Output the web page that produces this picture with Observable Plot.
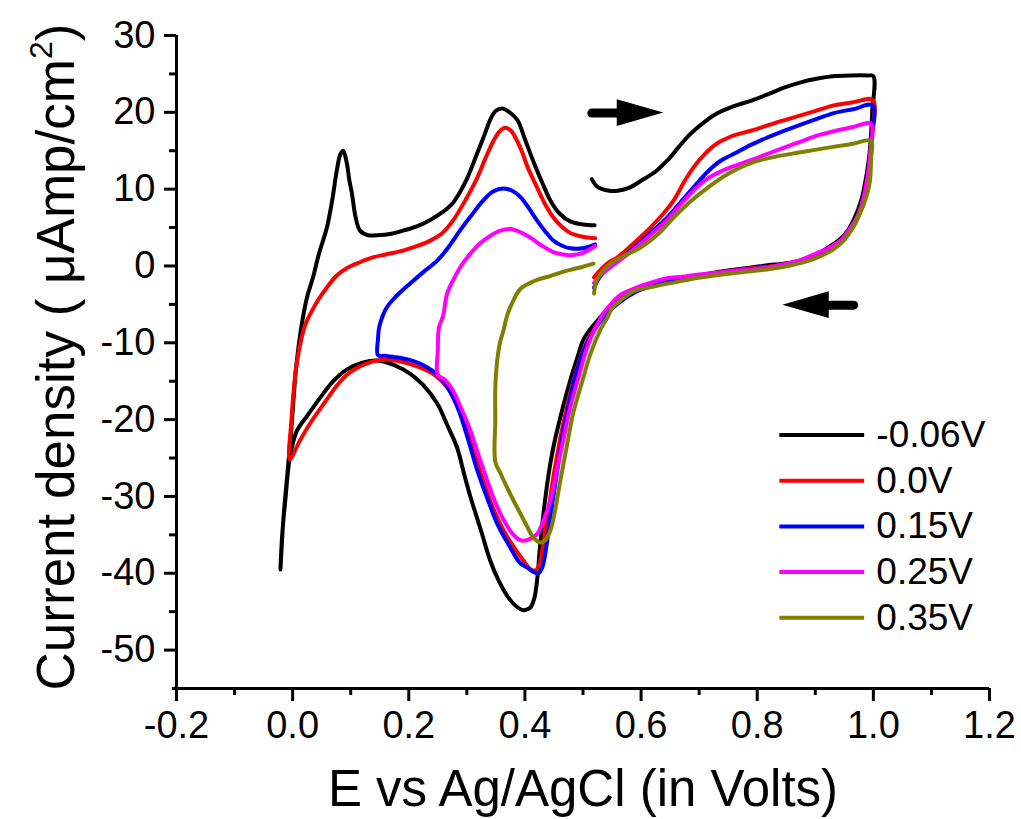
<!DOCTYPE html>
<html><head><meta charset="utf-8">
<script src="https://cdn.jsdelivr.net/npm/d3@7"></script>
<script src="https://cdn.jsdelivr.net/npm/@observablehq/plot@0.6"></script>
<style>body{margin:0;background:#fff}</style>
</head><body><div id="chart"></div>
<script>
// ---- data (E in V vs Ag/AgCl, j in µA/cm²), each curve in scan order ----
const seriesLabels = ["-0.06V", "0.0V", "0.15V", "0.25V", "0.35V"];
const seriesColors = ["#000000", "#ff0000", "#0000ff", "#ff00ff", "#808000"];

const cvM006 = [
  [0.515,11.3],[0.525,10.3],[0.545,9.8],[0.56,9.8],[0.58,10.2],[0.60,11.1],[0.625,12.3],[0.645,13.7],[0.665,15.5],[0.685,17.2],
  [0.71,18.8],[0.732,19.9],[0.76,20.8],[0.789,21.5],[0.82,22.4],[0.846,23.2],[0.875,23.9],[0.904,24.4],[0.93,24.7],[0.961,24.8],
  [0.99,24.8],[1.0,24.7],[0.998,20],[0.995,16],[0.992,13.7],[0.985,10.5],[0.979,8.5],[0.968,6.3],[0.956,4.6],[0.94,3.3],
  [0.922,2.4],[0.9,1.4],[0.875,0.7],[0.845,0.3],[0.818,0.1],[0.79,-0.2],[0.76,-0.5],[0.73,-0.8],[0.702,-1.2],[0.66,-1.7],
  [0.616,-2.3],[0.585,-3.2],[0.559,-4.5],[0.54,-5.8],[0.525,-7.1],[0.51,-8.5],[0.50,-9.7],[0.49,-12],[0.478,-14.9],[0.465,-18.5],
  [0.449,-23.6],[0.44,-27.5],[0.432,-32.2],[0.426,-36.5],[0.421,-40.9],[0.416,-43.3],[0.409,-44.5],[0.397,-44.8],[0.385,-44.3],[0.37,-43],
  [0.355,-41],[0.34,-38.3],[0.325,-34.6],[0.306,-30],[0.295,-27],[0.283,-23.6],[0.265,-20.5],[0.249,-17.9],[0.225,-15.5],[0.202,-14],
  [0.175,-12.9],[0.145,-12.3],[0.12,-12.6],[0.093,-13.5],[0.07,-15],[0.047,-17.2],[0.025,-19.5],[0.007,-21.5],[-0.005,-25],[-0.012,-30],
  [-0.018,-35],[-0.021,-39.5],[-0.016,-33],[-0.009,-27],[-0.002,-21],[0.005,-14],[0.011,-10],[0.017,-7],[0.025,-4],[0.035,-1.5],
  [0.045,1.5],[0.059,5],[0.068,8.5],[0.076,12.4],[0.082,14.5],[0.087,15],[0.093,13.5],[0.098,11],[0.102,9.5],[0.108,6.5],
  [0.116,4.6],[0.13,4.0],[0.145,4.0],[0.17,4.2],[0.19,4.6],[0.215,5.2],[0.237,6],[0.258,7],[0.276,8.2],[0.298,11],
  [0.318,14.7],[0.33,17],[0.34,19],[0.35,20.2],[0.361,20.5],[0.372,20.1],[0.387,19],[0.4,16.5],[0.414,13.7],[0.43,10.8],
  [0.444,8.5],[0.46,6.8],[0.478,5.8],[0.5,5.4],[0.52,5.3]
];

const cv000 = [
  [0.519,-1.5],[0.53,-0.5],[0.545,0.5],[0.559,1.1],[0.585,2.8],[0.616,5],[0.636,6.6],[0.656,8.5],[0.673,10.8],[0.69,12.8],
  [0.71,14.6],[0.732,16],[0.76,17],[0.789,17.6],[0.83,18.6],[0.875,19.6],[0.905,20.3],[0.932,20.9],[0.965,21.3],[0.999,21.6],
  [0.997,17],[0.993,13],[0.986,10],[0.978,7.5],[0.965,5.3],[0.95,3.8],[0.93,2.6],[0.9,1.4],[0.875,0.7],[0.845,0.2],
  [0.818,-0.1],[0.79,-0.3],[0.76,-0.6],[0.73,-0.9],[0.7,-1.3],[0.66,-1.8],[0.62,-2.5],[0.59,-3.3],[0.565,-4.5],[0.545,-5.8],
  [0.528,-7.3],[0.513,-9],[0.5,-11],[0.487,-14],[0.475,-17.5],[0.462,-22],[0.45,-27],[0.44,-32],[0.432,-36],[0.425,-38.8],
  [0.419,-39.6],[0.41,-39.5],[0.397,-38.3],[0.38,-36.5],[0.363,-34.4],[0.345,-31.5],[0.328,-27.9],[0.31,-23.8],[0.294,-20],[0.28,-17.6],
  [0.266,-15.8],[0.245,-14.2],[0.219,-13.2],[0.19,-12.5],[0.165,-12.2],[0.145,-12.3],[0.127,-12.7],[0.11,-13.3],[0.093,-14.2],[0.076,-15.6],
  [0.055,-17.8],[0.03,-20.5],[0.012,-22.8],[-0.005,-25.2],[-0.002,-20],[0.002,-16],[0.007,-12.7],[0.015,-9.5],[0.022,-7.6],[0.03,-6.3],
  [0.045,-4.3],[0.059,-2.8],[0.075,-1.3],[0.093,-0.3],[0.113,0.4],[0.133,1.0],[0.16,1.5],[0.19,2.0],[0.215,2.6],[0.237,3.3],
  [0.258,4.3],[0.276,5.9],[0.297,8.5],[0.318,11.5],[0.333,14.2],[0.346,16.3],[0.356,17.5],[0.366,18],[0.376,17.6],[0.392,15.4],
  [0.405,12.8],[0.421,10.2],[0.435,8.0],[0.449,6.3],[0.465,5.0],[0.478,4.3],[0.5,3.8],[0.521,3.6]
];

const cv015 = [
  [0.519,-2.8],[0.53,-1.3],[0.545,-0.2],[0.559,0.6],[0.585,2.2],[0.616,4.3],[0.645,6.3],[0.668,8.3],[0.69,10.2],[0.715,12.3],
  [0.737,13.7],[0.76,14.6],[0.79,15.8],[0.82,16.8],[0.846,17.6],[0.875,18.4],[0.905,19.2],[0.932,19.9],[0.965,20.4],[0.999,20.9],
  [0.997,16.5],[0.993,12.8],[0.986,9.8],[0.978,7.3],[0.965,5.1],[0.95,3.7],[0.93,2.5],[0.9,1.3],[0.875,0.6],[0.845,0.1],
  [0.818,-0.2],[0.79,-0.4],[0.76,-0.7],[0.73,-1],[0.7,-1.4],[0.66,-1.9],[0.62,-2.6],[0.59,-3.4],[0.565,-4.6],[0.545,-5.9],
  [0.528,-7.4],[0.513,-9.2],[0.5,-11.2],[0.488,-14],[0.477,-17.5],[0.465,-22],[0.455,-27],[0.445,-32],[0.437,-36.5],[0.43,-39.2],
  [0.423,-40],[0.414,-39.8],[0.405,-39.3],[0.392,-38.7],[0.372,-36.3],[0.352,-33.5],[0.335,-30.2],[0.318,-26.6],[0.303,-22.8],[0.288,-19.2],
  [0.273,-16.6],[0.259,-14.9],[0.24,-13.6],[0.219,-12.7],[0.2,-12.2],[0.18,-11.9],[0.16,-11.7],[0.147,-11.6],[0.147,-9.5],[0.149,-8],
  [0.155,-6.5],[0.162,-5.4],[0.175,-4.2],[0.19,-3.1],[0.202,-2.3],[0.225,-0.8],[0.249,0.7],[0.268,2.4],[0.288,4.6],[0.308,6.6],
  [0.328,8.5],[0.345,9.7],[0.363,10.1],[0.378,9.8],[0.392,9],[0.407,7.5],[0.421,5.9],[0.435,4.5],[0.449,3.3],[0.465,2.6],
  [0.478,2.3],[0.5,2.3],[0.521,2.8]
];

const cv025 = [
  [0.519,-2.2],[0.53,-1.2],[0.545,-0.3],[0.559,0.5],[0.585,2.0],[0.616,4.0],[0.645,6.0],[0.668,8.0],[0.69,9.8],[0.715,11.4],
  [0.74,12.4],[0.76,13],[0.79,13.8],[0.818,14.6],[0.85,15.5],[0.875,16.2],[0.904,17],[0.935,17.6],[0.965,18.1],[0.996,18.5],
  [0.995,15],[0.99,11.5],[0.983,8.8],[0.975,6.8],[0.961,5],[0.945,3.4],[0.925,2.4],[0.904,1.7],[0.875,0.8],[0.845,0.2],
  [0.818,-0.2],[0.78,-0.5],[0.74,-0.8],[0.7,-1.1],[0.67,-1.4],[0.645,-1.6],[0.62,-2.1],[0.6,-2.6],[0.58,-3.2],[0.564,-3.8],
  [0.55,-4.8],[0.535,-6.2],[0.52,-8.3],[0.507,-10.6],[0.493,-14.3],[0.478,-18.4],[0.467,-22.3],[0.456,-26.2],[0.444,-30.5],[0.432,-33.1],
  [0.422,-34.8],[0.414,-35.3],[0.403,-35.7],[0.392,-35.7],[0.378,-34.8],[0.363,-33],[0.348,-30.6],[0.335,-27.9],[0.32,-24.6],[0.306,-21.4],
  [0.29,-18.5],[0.276,-16.2],[0.262,-14.8],[0.25,-14.2],[0.25,-11],[0.252,-8],[0.259,-6.5],[0.266,-3.6],[0.276,-1.9],[0.29,0],
  [0.306,1.6],[0.322,2.9],[0.34,3.9],[0.358,4.6],[0.375,4.8],[0.392,4.4],[0.409,3.7],[0.43,2.6],[0.449,1.8],[0.465,1.5],
  [0.478,1.4],[0.5,1.7],[0.521,2.6]
];

const cv035 = [
  [0.519,-3.6],[0.523,-2],[0.535,-0.6],[0.547,0.3],[0.57,1.3],[0.599,2.4],[0.63,4.2],[0.656,6.3],[0.685,8.4],[0.715,10.2],
  [0.75,12],[0.789,13.4],[0.83,14.2],[0.875,14.8],[0.93,15.5],[0.965,15.9],[0.996,16.3],[0.996,14],[0.994,11],[0.987,8.8],
  [0.979,7.2],[0.965,5.0],[0.95,3.4],[0.932,2.2],[0.9,1.0],[0.87,0.3],[0.846,-0.1],[0.8,-0.6],[0.75,-1.0],[0.702,-1.5],
  [0.66,-2.1],[0.62,-2.7],[0.587,-3.3],[0.564,-4.5],[0.55,-5.5],[0.542,-6.7],[0.53,-8.3],[0.513,-11.4],[0.498,-15.2],[0.483,-19.2],
  [0.472,-23.5],[0.461,-27.9],[0.452,-31.8],[0.444,-34.4],[0.435,-35.7],[0.426,-36],[0.414,-35.3],[0.403,-33.8],[0.392,-32.2],[0.38,-30.5],
  [0.369,-28.8],[0.358,-27],[0.349,-25.5],[0.349,-20],[0.349,-16],[0.352,-12.5],[0.357,-10],[0.363,-8.4],[0.37,-6.3],[0.38,-4.5],
  [0.392,-3.0],[0.409,-2.2],[0.421,-1.8],[0.44,-1.4],[0.46,-0.9],[0.478,-0.5],[0.5,-0.1],[0.518,0.3]
];

const xMajorTicks = [-0.2, 0, 0.2, 0.4, 0.6, 0.8, 1.0, 1.2];
const xMinorTicks = [-0.1, 0.1, 0.3, 0.5, 0.7, 0.9, 1.1];
const yMajorTicks = [-50, -40, -30, -20, -10, 0, 10, 20, 30];
const yMinorTicks = [-45, -35, -25, -15, -5, 5, 15, 25];

// scan-direction arrows (annotation)
const arrows = [
  {y: 19.9, tail: 0.516, tip: 0.639},
  {y: -5.1, tail: 0.967, tip: 0.844}
];

const xTitle = "E vs Ag/AgCl (in Volts)";
const yTitle = "Current density ( μAmp/cm";

// ---- build table ----
const curves = [cvM006, cv000, cv015, cv025, cv035];
const rows = curves.flatMap((pts, i) => pts.map(([E, J]) => ({E, J, series: seriesLabels[i]})));

const headLen = 0.08, headHalf = 1.75;
const heads = arrows.flatMap((a, i) => {
  const base = a.tip - Math.sign(a.tip - a.tail) * headLen;
  return [{k: i, x: base, y1: a.y - headHalf, y2: a.y + headHalf}, {k: i, x: a.tip, y1: a.y, y2: a.y}];
});
const shafts = arrows.map(a => ({y: a.y, x1: a.tail, x2: a.tip - Math.sign(a.tip - a.tail) * headLen * 0.9}));

const legendRows = seriesLabels.map((s, i) => ({series: s, y: -22 - i * 5.95}));

const FONT = "'Liberation Sans', Arial, Helvetica, sans-serif";

const plot = Plot.plot({
  width: 1021,
  height: 819,
  marginLeft: 176,
  marginRight: 32,
  marginTop: 35,
  marginBottom: 131,
  style: {fontFamily: FONT, fontSize: "38px", background: "white", color: "black", overflow: "visible"},
  x: {domain: [-0.2, 1.2], label: null},
  y: {domain: [-55, 30], label: null},
  color: {domain: seriesLabels, range: seriesColors},
  marks: [
    Plot.ruleY([-55], {x1: -0.207, x2: 1.2, strokeWidth: 3}),
    Plot.ruleX([-0.2], {y1: -55.8, y2: 30, strokeWidth: 3}),
    Plot.axisX({ticks: xMajorTicks, tickSize: 13, tickPadding: 10, strokeWidth: 3, tickFormat: d => d.toFixed(1), fontSize: 38}),
    Plot.axisX({ticks: xMinorTicks, tickSize: 7, strokeWidth: 3, tickFormat: () => ""}),
    Plot.axisY({ticks: yMajorTicks, tickSize: 12, tickPadding: 9, strokeWidth: 3, tickFormat: d => String(d), fontSize: 38}),
    Plot.axisY({ticks: yMinorTicks, tickSize: 7, strokeWidth: 3, tickFormat: () => ""}),
    Plot.line(rows, {x: "E", y: "J", z: "series", stroke: "series", strokeWidth: 4, curve: "catmull-rom"}),
    Plot.ruleY(shafts, {y: "y", x1: "x1", x2: "x2", strokeWidth: 9, strokeLinecap: "round"}),
    Plot.areaY(heads, {x: "x", y1: "y1", y2: "y2", z: "k", fill: "black"}),
    Plot.ruleY(legendRows, {y: "y", x1: 0.839, x2: 0.985, stroke: "series", strokeWidth: 4}),
    Plot.text(legendRows, {y: "y", x: 1.0, text: "series", textAnchor: "start", dx: 3, fontSize: 37, lineAnchor: "middle"})
  ]
});

const svg = d3.select(plot);
svg.append("text")
  .attr("x", 583).attr("y", 806)
  .attr("text-anchor", "middle")
  .style("font-family", FONT).style("font-size", "51px").attr("fill", "black")
  .text(xTitle);

const yt = svg.append("text")
  .attr("transform", "translate(74,357) rotate(-90)")
  .attr("text-anchor", "middle")
  .style("font-family", FONT).style("font-size", "53px").attr("fill", "black");
yt.append("tspan").text(yTitle);
yt.append("tspan").attr("dy", -22).style("font-size", "32px").text("2");
yt.append("tspan").attr("dy", 22).text(")");

document.getElementById("chart").appendChild(plot);
</script>
</body></html>
